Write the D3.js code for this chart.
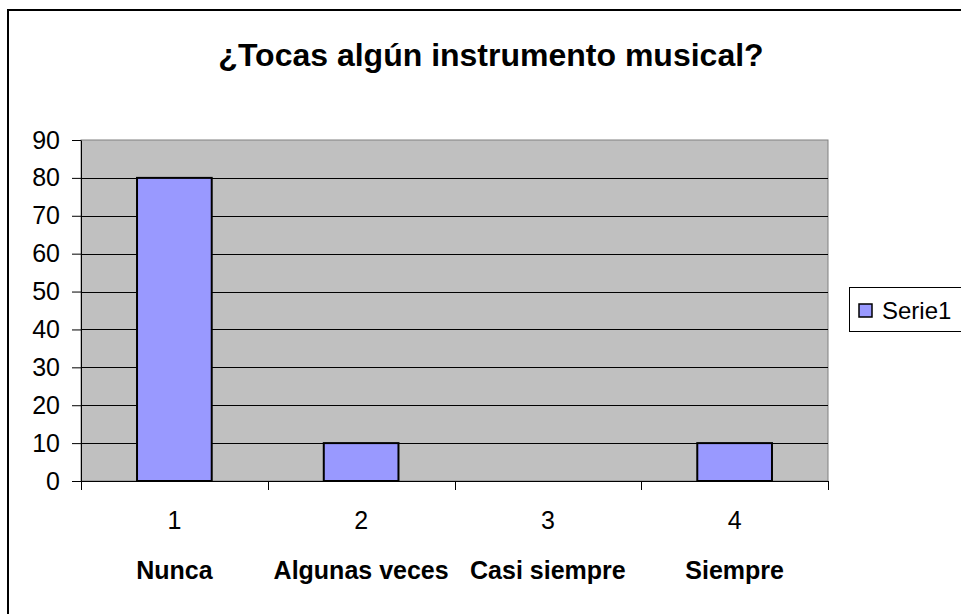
<!DOCTYPE html>
<html>
<head>
<meta charset="utf-8">
<script src="https://cdn.jsdelivr.net/npm/d3@7"></script>
<style>
  body { margin: 0; background: #fff; }
  svg { display: block; font-family: "Liberation Sans", Arial, sans-serif; }
</style>
</head>
<body>
<div class="chart"></div>
<script>
// chart data
var categories = ["1", "2", "3", "4"];
var categoryNames = ["Nunca", "Algunas veces", "Casi siempre", "Siempre"];
var values = [80, 10, 0, 10];
var yTicks = [0, 10, 20, 30, 40, 50, 60, 70, 80, 90];
var seriesName = "Serie1";
var title = "¿Tocas algún instrumento musical?";

var W = 961, H = 614;
// plot area
var plot = {left: 81, top: 140, right: 828, bottom: 481};

var svg = d3.select(".chart")
    .append("svg")
    .attr("width", W)
    .attr("height", H);

// outer chart frame (runs off the right and bottom edge)
svg.append("rect")
    .attr("x", 8)
    .attr("y", 10)
    .attr("width", 1000)
    .attr("height", 700)
    .attr("fill", "#fff")
    .attr("stroke", "#000")
    .attr("stroke-width", 2);

// scales
var xCat = d3.scaleBand()
    .domain(categories)
    .range([plot.left, plot.right]);

var xBar = d3.scaleBand()
    .domain(categories)
    .range([plot.left, plot.right])
    .paddingInner(0.6)
    .paddingOuter(0.3);

var yScale = d3.scaleLinear()
    .domain([0, 90])
    .range([plot.bottom, plot.top]);

// plot background
svg.append("rect")
    .attr("x", plot.left)
    .attr("y", plot.top)
    .attr("width", plot.right - plot.left)
    .attr("height", plot.bottom - plot.top)
    .attr("fill", "#c0c0c0")
    .attr("stroke", "#808080")
    .attr("stroke-width", 1);

// gridlines
svg.append("g")
    .selectAll("line")
    .data(yTicks.filter(function(d) { return d > 0 && d < 90; }))
    .enter().append("line")
    .attr("x1", plot.left)
    .attr("x2", plot.right)
    .attr("y1", function(d) { return Math.round(yScale(d)) + 0.5; })
    .attr("y2", function(d) { return Math.round(yScale(d)) + 0.5; })
    .attr("stroke", "#000")
    .attr("stroke-width", 1);

// bars
svg.append("g")
    .selectAll("rect")
    .data(values)
    .enter().append("rect")
    .attr("x", function(d, i) { return xBar(categories[i]); })
    .attr("y", function(d) { return yScale(d); })
    .attr("width", xBar.bandwidth())
    .attr("height", function(d) { return yScale(0) - yScale(d); })
    .attr("fill", "#9999ff")
    .attr("stroke", "#000")
    .attr("stroke-width", 2);

// y axis
var yAxis = d3.axisLeft(yScale)
    .tickValues(yTicks)
    .tickSize(9)
    .tickPadding(12)
    .tickSizeOuter(0);

var gy = svg.append("g")
    .attr("transform", "translate(" + plot.left + ",0)")
    .call(yAxis);
gy.selectAll("text")
    .style("font-size", "25px")
    .style("font-family", "Liberation Sans, Arial, sans-serif")
    .attr("fill", "#000");
gy.selectAll("line, path").attr("stroke", "#000");

// x axis line + boundary ticks
svg.append("line")
    .attr("x1", plot.left)
    .attr("x2", plot.right)
    .attr("y1", plot.bottom + 0.5)
    .attr("y2", plot.bottom + 0.5)
    .attr("stroke", "#000");

var bounds = categories.map(function(c) { return xCat(c); }).concat([plot.right]);
svg.append("g")
    .selectAll("line")
    .data(bounds)
    .enter().append("line")
    .attr("x1", function(d) { return Math.round(d) + 0.5; })
    .attr("x2", function(d) { return Math.round(d) + 0.5; })
    .attr("y1", plot.bottom)
    .attr("y2", plot.bottom + 9)
    .attr("stroke", "#000");

// category numbers
svg.append("g")
    .selectAll("text")
    .data(categories)
    .enter().append("text")
    .attr("x", function(d) { return xCat(d) + xCat.bandwidth() / 2; })
    .attr("y", 529)
    .attr("text-anchor", "middle")
    .style("font-size", "25px")
    .text(function(d) { return d; });

// category names
svg.append("g")
    .selectAll("text")
    .data(categoryNames)
    .enter().append("text")
    .attr("x", function(d, i) { return xCat(categories[i]) + xCat.bandwidth() / 2; })
    .attr("y", 579)
    .attr("text-anchor", "middle")
    .style("font-size", "25px")
    .style("font-weight", "bold")
    .text(function(d) { return d; });

// title
svg.append("text")
    .attr("x", 491)
    .attr("y", 66)
    .attr("text-anchor", "middle")
    .style("font-size", "32px")
    .style("font-weight", "bold")
    .text(title);

// legend
var legend = svg.append("g");
legend.append("rect")
    .attr("x", 849.5)
    .attr("y", 287.5)
    .attr("width", 200)
    .attr("height", 44)
    .attr("fill", "#fff")
    .attr("stroke", "#000");
legend.append("rect")
    .attr("x", 859)
    .attr("y", 304)
    .attr("width", 13)
    .attr("height", 13)
    .attr("fill", "#9999ff")
    .attr("stroke", "#000")
    .attr("stroke-width", 1.5);
legend.append("text")
    .attr("x", 882)
    .attr("y", 319)
    .style("font-size", "24px")
    .text(seriesName);
</script>
</body>
</html>
